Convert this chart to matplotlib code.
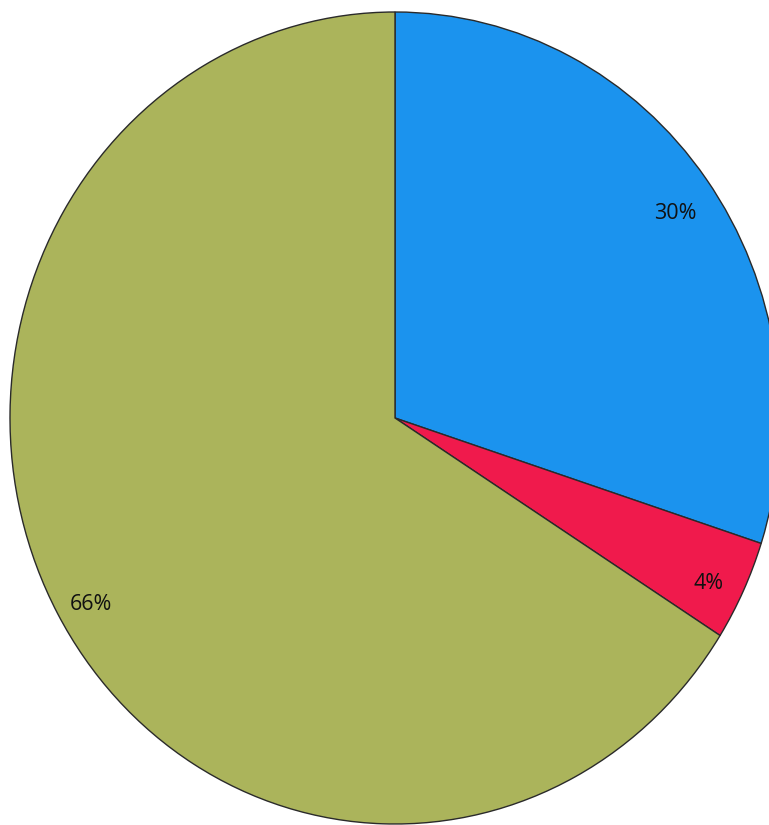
import matplotlib
matplotlib.use("Agg")
import matplotlib.pyplot as plt

shares = [30, 4, 66]
colors = ["#1b93ee", "#f01a4c", "#abb45b"]

fig = plt.figure(figsize=(7.69, 8.25), dpi=100)
# photo of the pie is a bit stretched vertically, so the axes box is not square
ax = fig.add_axes([10 / 769, 1 / 825, 770 / 769, 812 / 825])

wedges, texts, autotexts = ax.pie(
    shares,
    colors=colors,
    startangle=90,
    counterclock=False,
    autopct="%d%%",
    pctdistance=0.9,
    wedgeprops=dict(edgecolor="#2a2a2a", linewidth=1.0),
    textprops=dict(fontsize=15.5, family="Open Sans", color="#111111"),
)
# labels sit a little lower in the photo
for t in autotexts:
    x, y = t.get_position()
    t.set_position((x, y - 0.025))

ax.set_aspect("auto")
ax.set_xlim(-1.0, 1.0)
ax.set_ylim(-1.0, 1.0)
ax.set_axis_off()

fig.savefig("out.png", dpi=100)
